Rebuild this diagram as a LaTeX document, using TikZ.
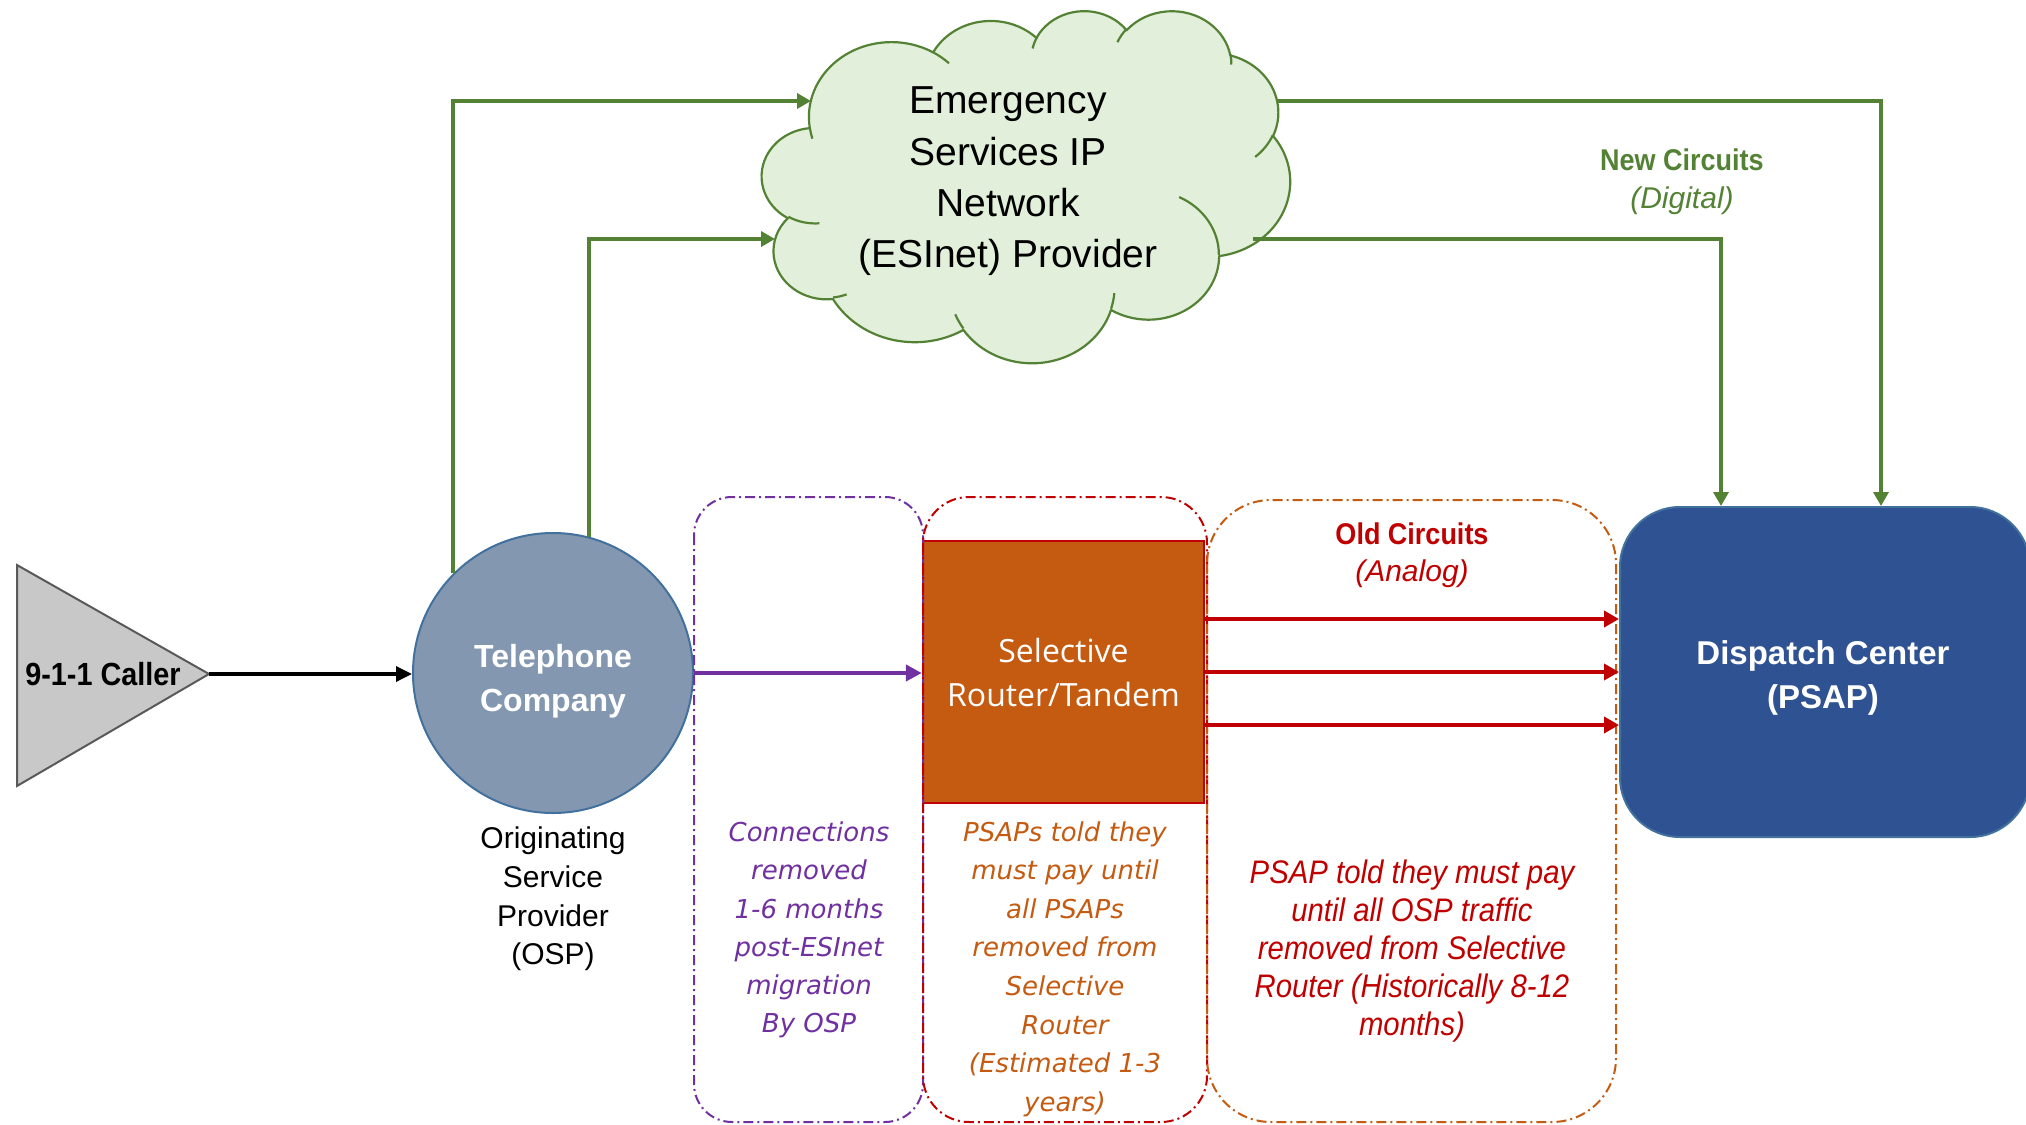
\documentclass[tikz,border=0pt]{standalone}
\usepackage{fontspec}
\setmainfont{Liberation Sans}
\newfontfamily\condf[FakeStretch=0.9]{Liberation Sans}
\newfontfamily\osans{Open Sans}
\newfontfamily\dvs{DejaVu Sans}
\usetikzlibrary{arrows.meta,calc}
\definecolor{grn}{HTML}{548235}
\definecolor{cloudfill}{HTML}{E2EFDA}
\definecolor{telfill}{HTML}{8497B0}
\definecolor{telline}{HTML}{41719C}
\definecolor{psapfill}{HTML}{2F5292}
\definecolor{rtrfill}{HTML}{C55A11}
\definecolor{dred}{HTML}{C00000}
\definecolor{purp}{HTML}{7030A0}
\definecolor{trifill}{HTML}{C8C8C8}
\definecolor{trilin}{HTML}{595959}
\newcommand\defarc[5]{%
 \pgfmathsetmacro\tmpA{atan2((#2)*sin(#4),(#3)*cos(#4))}%
 \pgfmathsetmacro\tmpB{atan2((#2)*sin((#4)+(#5)),(#3)*cos((#4)+(#5)))}%
 \pgfmathsetmacro\tmpD{mod(\tmpB-\tmpA+720,360)}%
 \expandafter\xdef\csname ArcS#1\endcsname{\tmpA}%
 \expandafter\xdef\csname ArcD#1\endcsname{\tmpD}%
}
\begin{document}
\begin{tikzpicture}[x=0.5pt,y=-0.5pt,
  gline/.style={draw=grn, line width=2pt, -{Triangle[length=7pt,width=7.5pt]}},
  rline/.style={draw=dred, line width=2pt, -{Triangle[length=7.5pt,width=8pt]}},
  dashbox/.style={line width=1pt, dash pattern=on 5pt off 2pt on 1pt off 2pt},
  note/.style={align=center, inner sep=0pt}
]
\useasboundingbox (0,0) rectangle (2026,1125);
% cloud arcs (PowerPoint cloud geometry, units /100)
\defarc{a}{67.53}{91.90}{-190.4875}{123.7805}
\defarc{b}{53.33}{72.67}{-144.1024}{89.9452}
\defarc{c}{43.65}{59.45}{-145.8079}{99.7230}
\defarc{d}{48.57}{65.95}{-130.9861}{117.2417}
\defarc{e}{53.33}{72.73}{-78.7089}{109.0269}
\defarc{f}{67.75}{92.20}{-46.2673}{130.2690}
\defarc{g}{57.85}{78.67}{0.6250}{114.0333}
\defarc{h}{67.52}{92.15}{22.4516}{115.1726}
\defarc{i}{77.20}{105.43}{66.2426}{75.7110}
\defarc{j}{43.60}{59.18}{-274.9421}{146.7356}
\defarc{k}{43.45}{59.45}{-246.8285}{152.5189}
\defarc{l}{43.45}{59.45}{86.7420}{26.4295}
\defarc{m}{43.60}{59.18}{73.6105}{11.4475}
\defarc{n}{67.52}{92.15}{137.6242}{14.0811}
\defarc{o}{67.52}{92.15}{6.4533}{15.9984}
\defarc{p}{57.85}{78.67}{-70.2924}{70.9174}
\defarc{q}{53.33}{72.73}{30.3180}{27.7515}
\defarc{r}{48.57}{65.95}{-13.7443}{14.8589}
\defarc{s}{48.57}{65.95}{-149.1815}{18.1954}
\defarc{t}{43.65}{59.45}{-163.4943}{17.6864}
\defarc{u}{67.53}{91.90}{-66.7070}{12.3194}
\defarc{v}{67.53}{91.90}{157.6544}{11.8582}
\begin{scope}[shift={(762,10)}, x=0.61111pt, y=-0.40741pt]
\filldraw[draw=grn, fill=cloudfill, line width=1.1pt, line join=round]
 (39,143.70)
 arc[start angle=\ArcSa, delta angle=\ArcDa, x radius=67.53, y radius=91.90]
 arc[start angle=\ArcSb, delta angle=\ArcDb, x radius=53.33, y radius=72.67]
 arc[start angle=\ArcSc, delta angle=\ArcDc, x radius=43.65, y radius=59.45]
 arc[start angle=\ArcSd, delta angle=\ArcDd, x radius=48.57, y radius=65.95]
 arc[start angle=\ArcSe, delta angle=\ArcDe, x radius=53.33, y radius=72.73]
 arc[start angle=\ArcSf, delta angle=\ArcDf, x radius=67.75, y radius=92.20]
 arc[start angle=\ArcSg, delta angle=\ArcDg, x radius=57.85, y radius=78.67]
 arc[start angle=\ArcSh, delta angle=\ArcDh, x radius=67.52, y radius=92.15]
 arc[start angle=\ArcSi, delta angle=\ArcDi, x radius=77.20, y radius=105.43]
 arc[start angle=\ArcSj, delta angle=\ArcDj, x radius=43.60, y radius=59.18]
 arc[start angle=\ArcSk, delta angle=\ArcDk, x radius=43.45, y radius=59.45]
 -- cycle;
\draw[grn, line width=1.1pt]
 (46.93,261.77) arc[start angle=\ArcSl, delta angle=\ArcDl, x radius=43.45, y radius=59.45]
 (69.28,348.99) arc[start angle=\ArcSm, delta angle=\ArcDm, x radius=43.60, y radius=59.18]
 (164.78,390.90) arc[start angle=\ArcSn, delta angle=\ArcDn, x radius=67.52, y radius=92.15]
 (288.27,347.51) arc[start angle=\ArcSo, delta angle=\ArcDo, x radius=67.52, y radius=92.15]
 (341.29,229.54) arc[start angle=\ArcSp, delta angle=\ArcDp, x radius=57.85, y radius=78.67]
 (417.98,153.54) arc[start angle=\ArcSq, delta angle=\ArcDq, x radius=53.33, y radius=72.73]
 (383.24,54.26) arc[start angle=\ArcSr, delta angle=\ArcDr, x radius=48.57, y radius=65.95]
 (290.78,39.52) arc[start angle=\ArcSs, delta angle=\ArcDs, x radius=48.57, y radius=65.95]
 (221.41,47.20) arc[start angle=\ArcSt, delta angle=\ArcDt, x radius=43.65, y radius=59.45]
 (140.00,51.92) arc[start angle=\ArcSu, delta angle=\ArcDu, x radius=67.53, y radius=91.90]
 (41.27,157.89) arc[start angle=\ArcSv, delta angle=\ArcDv, x radius=67.53, y radius=91.90];
\end{scope}
\node[note, font=\fontsize{19.5}{25.7}\selectfont] (esi) at (1008,181.5)
 {Emergency\\Services IP\\Network\\(ESInet) Provider};
\coordinate (esiL1) at (811,101);
\coordinate (esiL2) at (775,239);
\coordinate (esiR1) at (1277,101);
\coordinate (esiR2) at (1253,239);

% caller triangle
\filldraw[fill=trifill, draw=trilin, line width=1pt] (17,565) -- (209,674) -- (17,786) -- cycle;
\coordinate (callertip) at (209,674);
\node[note, font=\condf\bfseries\fontsize{16}{19}\selectfont] (caller) at (103,674) {9-1-1 Caller};

% main nodes
\node[circle, minimum size=140pt, fill=telfill, draw=telline, line width=1pt] (tel) at (553,673) {};
\node[note, text=white, font=\bfseries\fontsize{16}{22}\selectfont] (teltext) at (553,681) {Telephone\\Company};
\node[rectangle, minimum width=140.5pt, minimum height=131pt, fill=rtrfill, draw=dred, line width=1.2pt,
  text=white, align=center, font=\osans\fontsize{16}{22}\selectfont] (rtr) at (1063.5,672) {Selective\\Router/Tandem};
\node[rectangle, rounded corners=30pt, minimum width=205pt, minimum height=165pt, fill=psapfill, draw=telline, line width=1pt] (psap) at (1825,672) {};
\node[note, text=white, font=\bfseries\fontsize{16.5}{22}\selectfont] (psaptext) at (1823,678) {Dispatch Center\\(PSAP)};

% dashed boxes
\draw[dashbox, purp, rounded corners=19pt] (694,497) rectangle (923,1122);
\draw[dashbox, dred, rounded corners=23pt] (923,497) rectangle (1207,1122);
\draw[dashbox, rtrfill, rounded corners=32pt] (1207,500) rectangle (1616,1122);

% connectors
\draw[line width=1.7pt, -{Triangle[length=8pt,width=7.5pt]}] (callertip) -- (callertip -| tel.west);
\draw[draw=purp, line width=2pt, -{Triangle[length=8pt,width=8pt]}] (tel.east) -- (tel.east -| rtr.west);
\draw[rline] ([yshift=26.5pt]rtr.east) -- ([yshift=26.5pt]psap.west);
\draw[rline] (rtr.east) -- (psap.west);
\draw[rline] ([yshift=-26.5pt]rtr.east) -- ([yshift=-26.5pt]psap.west);
\draw[gline] (tel.135.6) |- (esiL1);
\draw[gline] (tel.75.5) |- (esiL2);
\draw[gline] (esiR1) -| ([xshift=131pt]psap.north west);
\draw[gline] (esiR2) -| ([xshift=51pt]psap.north west);

% labels
\node[note, text=grn, font=\fontsize{15}{19}\selectfont] (newc) at (1682,182)
 {{\condf\bfseries New Circuits}\\{\itshape (Digital)}};
\node[note, text=dred, font=\fontsize{15}{18.5}\selectfont] (oldc) at (1412,555)
 {{\condf\bfseries Old Circuits}\\{\itshape (Analog)}};
\node[note, font=\fontsize{15}{19.35}\selectfont] (osp) at (553,899)
 {Originating\\Service\\Provider\\(OSP)};
\node[note, text=purp, font=\dvs\itshape\fontsize{13}{19.15}\selectfont] (purpnote) at (809,930)
 {Connections\\removed\\1-6 months\\post-ESInet\\migration\\By OSP};
\node[note, text=rtrfill, font=\dvs\itshape\fontsize{13}{19.3}\selectfont] (orgnote) at (1065,969)
 {PSAPs told they\\must pay until\\all PSAPs\\removed from\\Selective\\Router\\(Estimated 1-3\\years)};
\node[note, text=dred, font=\condf\itshape\fontsize{16.3}{19.1}\selectfont] (rednote) at (1412,951)
 {PSAP told they must pay\\until all OSP traffic\\removed from Selective\\Router (Historically 8-12\\months)};
\end{tikzpicture}
\end{document}
